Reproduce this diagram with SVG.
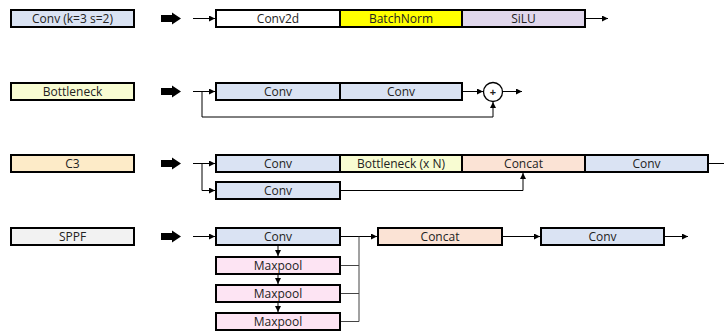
<svg xmlns="http://www.w3.org/2000/svg" width="724" height="331" viewBox="0 0 724 331">
<style>
.b{stroke:#000;stroke-width:2}
.t{font-family:"Open Sans","Noto Sans",sans-serif;font-size:12px;fill:#222;text-anchor:middle;dominant-baseline:central}
.l{fill:none;stroke:#000;stroke-width:1}
.g{fill:none;stroke:#444;stroke-width:1}
.conv{fill:#dae3f3}.bn{fill:#ffff00}.silu{fill:#e0d7ec}.bott{fill:#f8fcd2}.c3{fill:#fdebc8}.cat{fill:#fbe3d5}.sppf{fill:#f2f2f2}.mp{fill:#fde4f3}.w{fill:#fff}
</style>
<defs>
<marker id="a" viewBox="0 0 8 8" refX="8" refY="4" markerWidth="6" markerHeight="6" orient="auto" markerUnits="userSpaceOnUse"><path d="M0,0L8,4L0,8z" fill="#000"/></marker>
<path id="fat" d="M0,-3.5H11V-6L20,0L11,6V3.5H0z" fill="#000"/>
</defs>

<g id="conv-k3s2"><rect class="b conv" x="11" y="10" width="123" height="17"/><text class="t" x="72.5" y="18.5">Conv (k=3 s=2)</text></g>
<g id="bottleneck"><rect class="b bott" x="11" y="83" width="123" height="17"/><text class="t" x="72.5" y="91.5">Bottleneck</text></g>
<g id="c3"><rect class="b c3" x="11" y="155" width="123" height="17"/><text class="t" x="72.5" y="163.5">C3</text></g>
<g id="sppf"><rect class="b sppf" x="11" y="228" width="123" height="17"/><text class="t" x="72.5" y="236.5">SPPF</text></g>

<g id="fat-arrows">
<use href="#fat" x="161" y="18.5"/>
<use href="#fat" x="161" y="91.5"/>
<use href="#fat" x="161" y="163.5"/>
<use href="#fat" x="161" y="236.5"/>
</g>

<g id="r1-conv2d"><rect class="b w" x="216" y="10" width="124" height="17"/><text class="t" x="278" y="18.5">Conv2d</text></g>
<g id="r1-batchnorm"><rect class="b bn" x="340" y="10" width="122" height="17"/><text class="t" x="401" y="18.5">BatchNorm</text></g>
<g id="r1-silu"><rect class="b silu" x="462" y="10" width="123" height="17"/><text class="t" x="523.5" y="18.5">SiLU</text></g>

<g id="r2-conv1"><rect class="b conv" x="216" y="83" width="124" height="17"/><text class="t" x="278" y="91.5">Conv</text></g>
<g id="r2-conv2"><rect class="b conv" x="340" y="83" width="122" height="17"/><text class="t" x="401" y="91.5">Conv</text></g>
<g id="r2-add"><circle cx="493" cy="92" r="9.5" fill="#fff" stroke="#000" stroke-width="1.3"/><text class="t" x="493" y="91.5" style="font-size:11px;font-weight:bold">+</text></g>

<g id="r3-conv1"><rect class="b conv" x="216" y="155" width="124" height="17"/><text class="t" x="278" y="163.5">Conv</text></g>
<g id="r3-bottleneck"><rect class="b bott" x="340" y="155" width="122" height="17"/><text class="t" x="401" y="163.5">Bottleneck (x N)</text></g>
<g id="r3-concat"><rect class="b cat" x="462" y="155" width="123" height="17"/><text class="t" x="523.5" y="163.5">Concat</text></g>
<g id="r3-conv3"><rect class="b conv" x="585" y="155" width="123" height="17"/><text class="t" x="646.5" y="163.5">Conv</text></g>
<g id="r3-conv2"><rect class="b conv" x="216" y="182" width="124" height="17"/><text class="t" x="278" y="190.5">Conv</text></g>

<g id="r4-conv1"><rect class="b conv" x="216" y="228" width="124" height="17"/><text class="t" x="278" y="236.5">Conv</text></g>
<g id="r4-maxpool1"><rect class="b mp" x="216" y="257" width="124" height="17"/><text class="t" x="278" y="265.5">Maxpool</text></g>
<g id="r4-maxpool2"><rect class="b mp" x="216" y="285" width="124" height="17"/><text class="t" x="278" y="293.5">Maxpool</text></g>
<g id="r4-maxpool3"><rect class="b mp" x="216" y="313" width="124" height="17"/><text class="t" x="278" y="321.5">Maxpool</text></g>
<g id="r4-concat"><rect class="b cat" x="378" y="228" width="124" height="17"/><text class="t" x="440" y="236.5">Concat</text></g>
<g id="r4-conv2"><rect class="b conv" x="541" y="228" width="123" height="17"/><text class="t" x="602.5" y="236.5">Conv</text></g>

<g id="connectors">
<path class="l" d="M193,18.5H215" marker-end="url(#a)"/>
<path class="l" d="M586,18.5H608" marker-end="url(#a)"/>

<path class="l" d="M193,91.5H215" marker-end="url(#a)"/>
<path class="l" d="M202,91.5V117H493V102" marker-end="url(#a)"/>
<path class="l" d="M463,91.5H483" marker-end="url(#a)"/>
<path class="l" d="M502.5,91.5H522" marker-end="url(#a)"/>

<path class="l" d="M193,163.5H215" marker-end="url(#a)"/>
<path class="l" d="M202,163.5V190.5H215" marker-end="url(#a)"/>
<path class="l" d="M341,190.5H523V173" marker-end="url(#a)"/>
<path class="l" d="M709,163.5H724"/>

<path class="l" d="M193,236.5H215" marker-end="url(#a)"/>
<path class="l" d="M278,246V256" marker-end="url(#a)"/>
<path class="l" d="M278,275V284" marker-end="url(#a)"/>
<path class="l" d="M278,303V312" marker-end="url(#a)"/>
<path class="l" d="M341,236.5H377" marker-end="url(#a)"/>
<path class="g" d="M341,265.5H359M341,293.5H359M341,321.5H359M359,236.5V321.5"/>
<path class="l" d="M503,236.5H540" marker-end="url(#a)"/>
<path class="l" d="M665,236.5H688" marker-end="url(#a)"/>
</g>
</svg>
